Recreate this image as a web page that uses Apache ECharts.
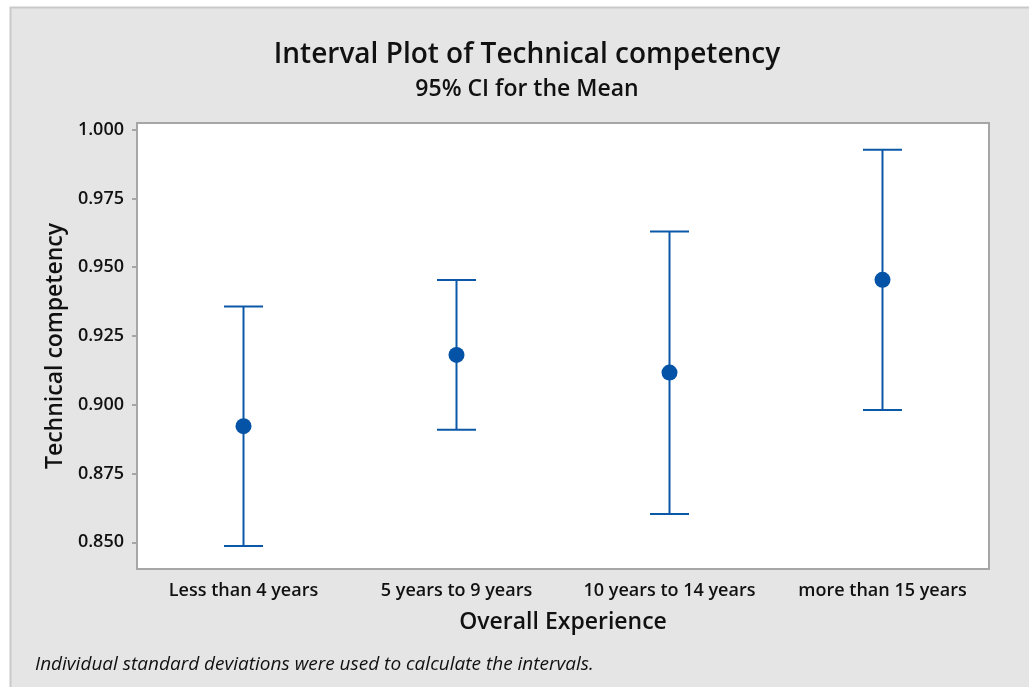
<!DOCTYPE html>
<html>
<head>
<meta charset="utf-8">
<script src="https://cdn.jsdelivr.net/npm/echarts@6/dist/echarts.min.js"></script>
<style>
  html, body { margin: 0; padding: 0; background: #fff; }
  #chart { width: 1029px; height: 687px; }
</style>
</head>
<body>
<div id="chart"></div>
<script>
// groups on the x axis
var categories = ['Less than 4 years', '5 years to 9 years', '10 years to 14 years', 'more than 15 years'];
// mean and 95% CI bounds
var means = [0.8922, 0.9181, 0.9117, 0.9454];
var lower = [0.8487, 0.8909, 0.8603, 0.8981];
var upper = [0.9357, 0.9453, 0.9630, 0.9927];
var yTicks = [0.850, 0.875, 0.900, 0.925, 0.950, 0.975, 1.000];

var FONT = '"Open Sans", "Noto Sans", sans-serif';
var BLUE = '#0b58a8';
var GREY = '#a6a6a6';

var ciData = [];
for (var i = 0; i < categories.length; i++) {
  ciData.push([i, lower[i], upper[i]]);
}

var chart = echarts.init(document.getElementById('chart'));

var option = {
  backgroundColor: '#ffffff',
  animation: false,
  graphic: [
    {
      type: 'rect',
      z: -10,
      shape: { x: 10.5, y: 7.5, width: 1030, height: 690 },
      style: { fill: '#e5e5e5', stroke: '#c9c9c9', lineWidth: 2 }
    },
    {
      type: 'text',
      left: 35,
      top: 655,
      style: {
        text: 'Individual standard deviations were used to calculate the intervals.',
        font: 'italic 19px ' + FONT,
        fill: '#111'
      }
    }
  ],
  title: {
    text: 'Interval Plot of Technical competency',
    subtext: '95% CI for the Mean',
    left: 522,
    textAlign: 'center',
    top: 36,
    itemGap: 9,
    textStyle: { fontFamily: FONT, fontSize: 28, fontWeight: 600, color: '#111' },
    subtextStyle: { fontFamily: FONT, fontSize: 23, fontWeight: 600, color: '#111' }
  },
  grid: {
    left: 137,
    right: 40,
    top: 123,
    bottom: 118,
    show: true,
    backgroundColor: '#ffffff',
    borderColor: GREY,
    borderWidth: 2
  },
  xAxis: {
    type: 'category',
    data: categories,
    boundaryGap: true,
    name: 'Overall Experience',
    nameLocation: 'middle',
    nameGap: 42,
    nameTextStyle: { fontFamily: FONT, fontSize: 23, fontWeight: 600, color: '#111' },
    axisLine: { lineStyle: { color: GREY, width: 2 } },
    axisTick: { alignWithLabel: true, interval: 0, length: 5, lineStyle: { color: GREY, width: 2 } },
    axisLabel: {
      interval: 0,
      hideOverlap: false,
      margin: 13,
      fontFamily: FONT, fontSize: 18, fontWeight: 600, color: '#111'
    },
    splitLine: { show: false }
  },
  yAxis: {
    type: 'value',
    min: 0.8403,
    max: 1.0024,
    name: 'Technical competency',
    nameLocation: 'middle',
    nameRotate: 90,
    nameGap: 66,
    nameTextStyle: { fontFamily: FONT, fontSize: 23, fontWeight: 600, color: '#111' },
    axisLine: { show: true, lineStyle: { color: GREY, width: 2 } },
    axisTick: { show: true, length: 5, customValues: yTicks, lineStyle: { color: GREY, width: 2 } },
    axisLabel: {
      margin: 13,
      customValues: yTicks,
      fontFamily: FONT, fontSize: 18, fontWeight: 600, color: '#111',
      formatter: function (v) { return v.toFixed(3); }
    },
    splitLine: { show: false }
  },
  series: [
    {
      type: 'custom',
      name: 'CI',
      data: ciData,
      encode: { x: 0, y: [1, 2] },
      renderItem: function (params, api) {
        var x = api.value(0);
        var lo = api.coord([x, api.value(1)]);
        var hi = api.coord([x, api.value(2)]);
        var half = 19.5;
        var style = { stroke: BLUE, lineWidth: 2 };
        return {
          type: 'group',
          children: [
            { type: 'line', shape: { x1: lo[0], y1: lo[1], x2: hi[0], y2: hi[1] }, style: style },
            { type: 'line', shape: { x1: lo[0] - half, y1: lo[1], x2: lo[0] + half, y2: lo[1] }, style: style },
            { type: 'line', shape: { x1: hi[0] - half, y1: hi[1], x2: hi[0] + half, y2: hi[1] }, style: style }
          ]
        };
      },
      z: 2
    },
    {
      type: 'scatter',
      name: 'Mean',
      data: means,
      symbol: 'circle',
      symbolSize: 16,
      itemStyle: { color: '#0553a6', opacity: 1 },
      z: 3
    }
  ]
};

chart.setOption(option);
</script>
</body>
</html>
